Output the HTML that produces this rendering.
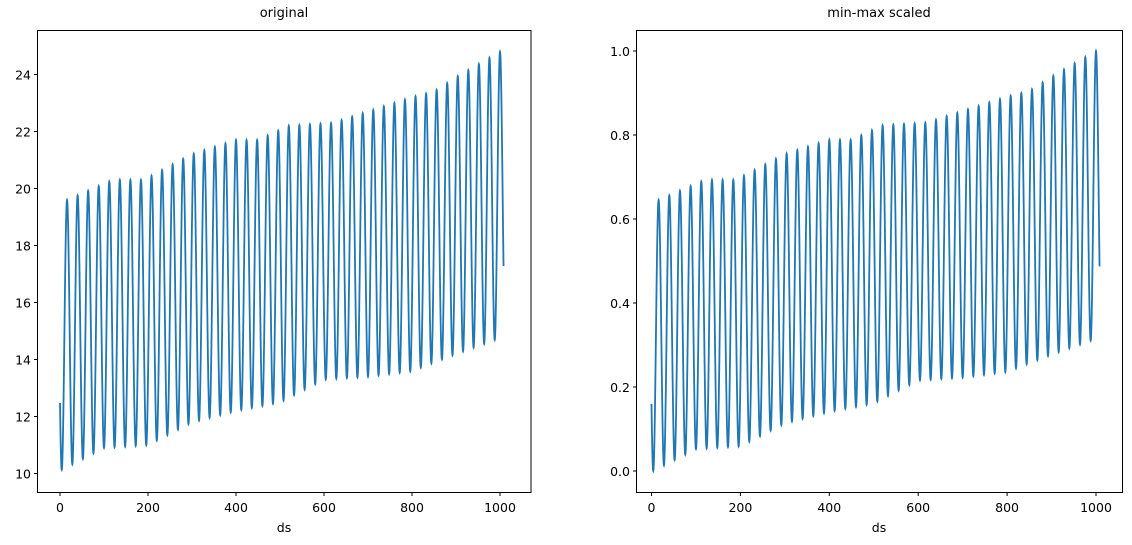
<!DOCTYPE html>
<html><head><meta charset="utf-8"><style>
body{margin:0;background:#fff}
svg{display:block;font-family:"DejaVu Sans","Liberation Sans",sans-serif;font-size:12.5px}
</style></head><body>
<svg id="s" width="1132" height="545" xmlns="http://www.w3.org/2000/svg">
<rect width="1132" height="545" fill="#fff"/>
<g id="g"></g>
<rect x="37.5" y="30.5" width="493.5" height="462" fill="none" stroke="#000" stroke-width="1"/>
<rect x="636.5" y="30.5" width="486" height="462" fill="none" stroke="#000" stroke-width="1"/>
<text x="284" y="17" text-anchor="middle" font-size="13">original</text>
<text x="879" y="17" text-anchor="middle" font-size="13">min-max scaled</text>
<text x="284" y="532" text-anchor="middle">ds</text>
<text x="879" y="532" text-anchor="middle">ds</text>
</svg>
<script>
var g=document.getElementById('g'),h='';
function L(x1,y1,x2,y2){h+='<line x1="'+x1+'" y1="'+y1+'" x2="'+x2+'" y2="'+y2+'" stroke="#000"/>';}
function T(x,y,t,a){h+='<text x="'+x+'" y="'+y+'" text-anchor="'+a+'">'+t+'</text>';}
for(var v=0;v<=1000;v+=200){var x=60+0.44*v;L(x,492.5,x,496);T(x,512,v,'middle');}
for(var v=10;v<=24;v+=2){var y=473.5-(v-10)*28.5;L(34,y,37.5,y);T(31,y+5,v,'end');}
for(var v=0;v<=1000;v+=200){var x=651.5+0.4445*v;L(x,492.5,x,496);T(x,512,v,'middle');}
for(var i=0;i<=5;i++){var v=i*0.2,y=471-v*420;L(633,y,636.5,y);T(630,y+5,v.toFixed(1),'end');}
function interp(pts,t){if(t<=pts[0][0])return pts[0][1];for(var i=1;i<pts.length;i++){if(t<=pts[i][0]){var a=pts[i-1],b=pts[i];return a[1]+(b[1]-a[1])*(t-a[0])/(b[0]-a[0]);}}return pts[pts.length-1][1];}
var PK=[[17,19.6],[120,20.3],[190,20.3],[300,21.2],[400,21.7],[450,21.7],[520,22.2],[620,22.3],[700,22.7],[800,23.2],[850,23.4],[900,23.9],[1000,24.8],[1020,24.9]];
var TR=[[0,10.1],[100,10.9],[200,11.0],[300,11.8],[400,12.2],[500,12.5],[600,13.3],[700,13.4],[800,13.6],[900,14.2],[990,14.7],[1020,14.8]];
var N=1008,P=24,d=[];
for(var t=0;t<=N;t+=0.25){
 var lo=interp(TR,t), hi=interp(PK,t);
 var ph=(t-4)/P*2*Math.PI;
 d.push([t,lo+(hi-lo)*(0.5-0.5*Math.cos(ph))]);
}
var mn=1e9,mx=-1e9;d.forEach(function(p){mn=Math.min(mn,p[1]);mx=Math.max(mx,p[1]);});
var a='',b='';
d.forEach(function(p,i){
 a+=(i?'L':'M')+(60+0.44*p[0]).toFixed(2)+' '+(473.5-(p[1]-10)*28.5).toFixed(2);
 var s=(p[1]-mn)/(mx-mn);
 b+=(i?'L':'M')+(651.5+0.4445*p[0]).toFixed(2)+' '+(471-s*420).toFixed(2);
});
h+='<path d="'+a+'" fill="none" stroke="#1f77b4" stroke-width="1.8"/>';
h+='<path d="'+b+'" fill="none" stroke="#1f77b4" stroke-width="1.8"/>';
g.innerHTML=h;
</script>
</body></html>
